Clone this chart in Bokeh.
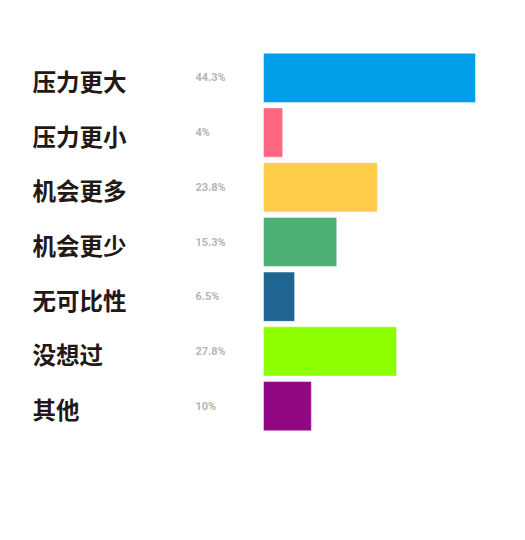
from bokeh.plotting import figure
from bokeh.models import ColumnDataSource, FactorRange, Range1d
from bokeh.core.properties import value
from bokeh.embed import file_html
from bokeh.resources import INLINE

categories = ["压力更大", "压力更小", "机会更多", "机会更少", "无可比性", "没想过", "其他"]
values = [44.3, 4, 23.8, 15.3, 6.5, 27.8, 10]
labels = ["44.3%", "4%", "23.8%", "15.3%", "6.5%", "27.8%", "10%"]
colors = ["#009fe8", "#fc6882", "#ffcc4c", "#4caf74", "#1f6592", "#8cff00", "#920783"]

W, H = 509, 524
scale = 4.786            # px per percent
bar_px0 = 263            # bar origin within canvas (px)
x0 = -bar_px0 / scale
x1 = x0 + W / scale

src = ColumnDataSource(dict(cat=categories, val=values, lab=labels, col=colors,
                            cx=[x0 + 32 / scale] * len(categories),
                            px=[x0 + 195 / scale] * len(categories)))

p = figure(width=W, height=H, output_backend="svg", toolbar_location=None,
           x_range=Range1d(x0, x1),
           y_range=FactorRange(factors=list(reversed(categories))),
           x_axis_location=None, y_axis_location=None,
           min_border_left=0, min_border_right=0,
           min_border_top=50, min_border_bottom=91)
p.outline_line_color = None
p.grid.visible = False
p.background_fill_color = "white"
p.border_fill_color = "white"

p.hbar(y="cat", left=0, right="val", height=0.9, fill_color="col",
       line_color="white", line_alpha=0.45, line_width=1, source=src)

p.text(x="cx", y="cat", text="cat", source=src, text_baseline="middle",
       text_align="left", text_font=value("Noto Sans CJK SC"),
       text_font_style="bold", text_font_size="23.5px", text_color="#231815",
       y_offset=3)

p.text(x="px", y="cat", text="lab", source=src, text_baseline="middle",
       text_align="left", text_font=value("Roboto"),
       text_font_style="bold", text_font_size="11px", text_color="#b5b5b5")

open("out.html", "w").write(file_html(p, INLINE))
